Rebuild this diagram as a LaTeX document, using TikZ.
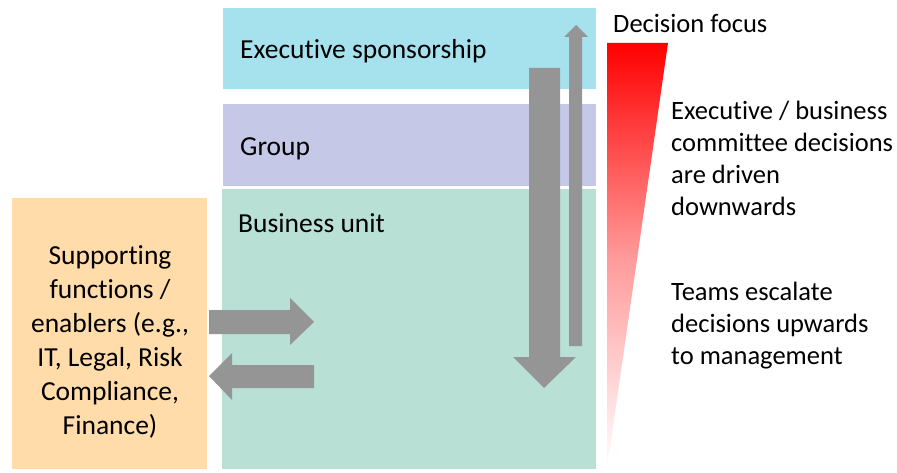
\documentclass[tikz,border=0pt]{standalone}
\usepackage{fontspec}
\setmainfont[Ligatures={NoCommon}]{Carlito}
\begin{document}
\begin{tikzpicture}[x=1pt,y=-1pt,
  lbl/.style={anchor=west,font=\fontsize{27.5}{32}\selectfont,text=black,inner sep=0pt},
  side/.style={anchor=west,align=left,font=\fontsize{26.5}{32}\selectfont,inner sep=0pt},
  garrow/.style={fill=arrowgray,draw=none}]
\definecolor{execc}{HTML}{A6E1EE}
\definecolor{groupc}{HTML}{C5C8E6}
\definecolor{buc}{HTML}{B8E0D4}
\definecolor{supc}{HTML}{FFDCAA}
\definecolor{arrowgray}{HTML}{959595}
\useasboundingbox (0,0) rectangle (897,473);
% bands
\fill[execc] (223,8) rectangle (596,89);
\fill[groupc] (223,104) rectangle (596,186);
\fill[buc] (222,189) rectangle (596,469);
\fill[supc] (12,198) rectangle (207,469);
\node[lbl] (exec) at (240,51) {Executive sponsorship};
\node[lbl] (group) at (240,149) {Group};
\node[lbl] (bu) at (238,223) {Business unit};
\node[align=center,font=\fontsize{27.5}{34}\selectfont,inner sep=0pt] (sup) at (110,342)
  {Supporting\\functions /\\enablers (e.g.,\\IT, Legal, Risk\\Compliance,\\Finance)};
% vertical arrows
\fill[garrow] (529,68) -- (560,68) -- (560,357) -- (576,357) -- (544,388) -- (513,357) -- (529,357) -- cycle;
\fill[garrow] (569,346) -- (569,37) -- (564,37) -- (576,25) -- (588,37) -- (582,37) -- (582,346) -- cycle;
% horizontal arrows
\fill[garrow] (209,310) -- (290,310) -- (290,298) -- (314,322) -- (290,345) -- (290,334) -- (209,334) -- cycle;
\fill[garrow] (314,365) -- (232,365) -- (232,353) -- (209,376) -- (232,400) -- (232,388) -- (314,388) -- cycle;
% focus triangle
\shade[top color=red, bottom color=white, middle color=red!40] (607,43) -- (668,43) -- (607,469) -- cycle;
\node[side] (focus) at (613,23) {Decision focus};
\node[side,anchor=north west] (down) at (671,101) {Executive / business\\committee decisions\\are driven\\downwards};
\node[side,anchor=north west] (up) at (671,282) {Teams escalate\\decisions upwards\\to management};
\end{tikzpicture}
\end{document}
